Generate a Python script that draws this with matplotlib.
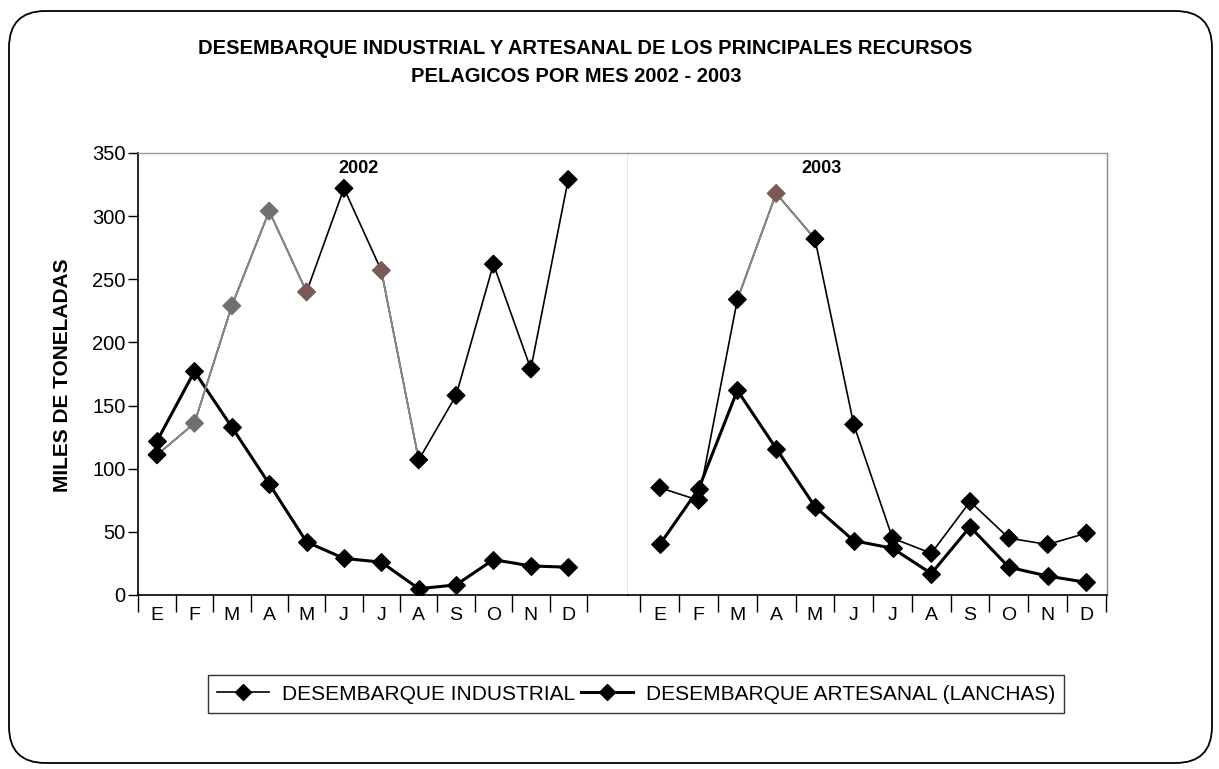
import matplotlib
matplotlib.use("Agg")
import matplotlib.pyplot as plt
from matplotlib.patches import FancyBboxPatch
from matplotlib.lines import Line2D

months = ["E", "F", "M", "A", "M", "J", "J", "A", "S", "O", "N", "D"]
industrial_2002 = [111, 136, 229, 304, 240, 322, 257, 107, 158, 262, 179, 329]
artesanal_2002 = [122, 177, 133, 88, 42, 29, 26, 5, 8, 28, 23, 22]
industrial_2003 = [85, 75, 234, 318, 282, 135, 45, 33, 74, 45, 40, 49]
artesanal_2003 = [40, 84, 162, 116, 70, 43, 37, 17, 54, 22, 15, 10]
yticks = [0, 50, 100, 150, 200, 250, 300, 350]

title_l1 = "DESEMBARQUE INDUSTRIAL Y ARTESANAL DE LOS PRINCIPALES RECURSOS"
title_l2 = "PELAGICOS POR MES 2002 - 2003"
ylabel = "MILES DE TONELADAS"
leg_ind = "DESEMBARQUE INDUSTRIAL"
leg_art = "DESEMBARQUE ARTESANAL (LANCHAS)"

plt.rcParams['font.family'] = ['Liberation Sans', 'DejaVu Sans']

W, H = 1219, 769
fig = plt.figure(figsize=(W / 100, H / 100), dpi=100)

# rounded outer frame
frame = FancyBboxPatch((9 / W, 6 / H), (1212 - 9) / W, (758 - 6) / H,
                       boxstyle="round,pad=0,rounding_size=0.03",
                       transform=fig.transFigure, fill=False,
                       edgecolor="black", linewidth=1.3, mutation_aspect=W / H)
fig.patches.append(frame)

x0, xd, x1 = 138 / W, 628 / W, 1107 / W
yb, yt = 1 - 595 / H, 1 - 153 / H
axL = fig.add_axes([x0, yb, xd - x0, yt - yb])
axR = fig.add_axes([xd, yb, x1 - xd, yt - yb])

gray = "#707070"
brown = "#7a5a55"

def draw(ax, ind, art, ind_colors, gray_segs):
    xs = list(range(len(ind)))
    ax.plot(xs, art, color="black", lw=2.2, zorder=3)
    ax.plot(xs, ind, color="black", lw=1.2, zorder=4)
    for i in gray_segs:
        ax.plot(xs[i:i + 2], ind[i:i + 2], color="#8a8a8a", lw=1.3, zorder=4.5)
    ax.scatter(xs, art, marker="D", s=80, color="black", zorder=5)
    ax.scatter(xs, ind, marker="D", s=80, c=ind_colors, zorder=6)

c2002 = ["black", gray, gray, gray, brown, "black", brown, "black", "black", "black", "black", "black"]
c2003 = ["black", "black", "black", brown] + ["black"] * 8
draw(axL, industrial_2002, artesanal_2002, c2002, [0, 1, 2, 3, 6])
draw(axR, industrial_2003, artesanal_2003, c2003, [2, 3])

axL.set_xlim(-0.51, 12.6)
axR.set_xlim(-0.82, 11.53)
for ax in (axL, axR):
    ax.set_ylim(0, 350)
    ax.set_xticks(range(12))
    ax.set_xticklabels(months, fontsize=14)
    ax.set_xticks([i - 0.5 for i in range(13)], minor=True)
    ax.tick_params(axis="x", which="major", length=0, pad=9)
    ax.tick_params(axis="x", which="minor", length=12, width=1.0, direction="out")
    ax.spines["bottom"].set_linewidth(1.2)
    ax.spines["top"].set_color("#9a9a9a")
    ax.spines["top"].set_linewidth(1.0)

axL.set_yticks(yticks)
axL.set_yticklabels([str(v) for v in yticks], fontsize=14.5)
axL.tick_params(axis="y", length=7, width=1.0, direction="out", pad=2)
axL.spines["left"].set_linewidth(1.2)
axL.spines["right"].set_color("#8a8a8a")
axL.spines["right"].set_linewidth(1.0)
axR.set_yticks([])
axR.spines["left"].set_visible(False)
axR.spines["right"].set_color("#8a8a8a")
axR.spines["right"].set_linewidth(1.0)

fig.text(62 / W, 1 - 375 / H, ylabel, rotation=90, ha="center", va="center",
         fontsize=15, fontweight="bold")
axL.text(0.45, 0.965, "2002", transform=axL.transAxes, ha="center", va="center",
         fontsize=13, fontweight="bold")
axR.text(0.405, 0.965, "2003", transform=axR.transAxes, ha="center", va="center",
         fontsize=13, fontweight="bold")

fig.text(585 / W, 1 - 48 / H, title_l1, ha="center", va="center", fontsize=14.5,
         fontweight="bold")
fig.text(576 / W, 1 - 77 / H, title_l2, ha="center", va="center", fontsize=14.5,
         fontweight="bold")

handles = [Line2D([], [], color="black", lw=1.2, marker="D", markersize=8),
           Line2D([], [], color="black", lw=2.2, marker="D", markersize=8)]
leg = fig.legend(handles, [leg_ind, leg_art], loc="center",
                 bbox_to_anchor=(636 / W, 1 - 694 / H), ncol=2, fontsize=15.0,
                 frameon=True, fancybox=False, edgecolor="black",
                 handlelength=2.5, handletextpad=0.6, columnspacing=0.3,
                 borderpad=0.45, borderaxespad=0)
leg.get_frame().set_linewidth(1.0)

fig.savefig("out.png", dpi=100)
